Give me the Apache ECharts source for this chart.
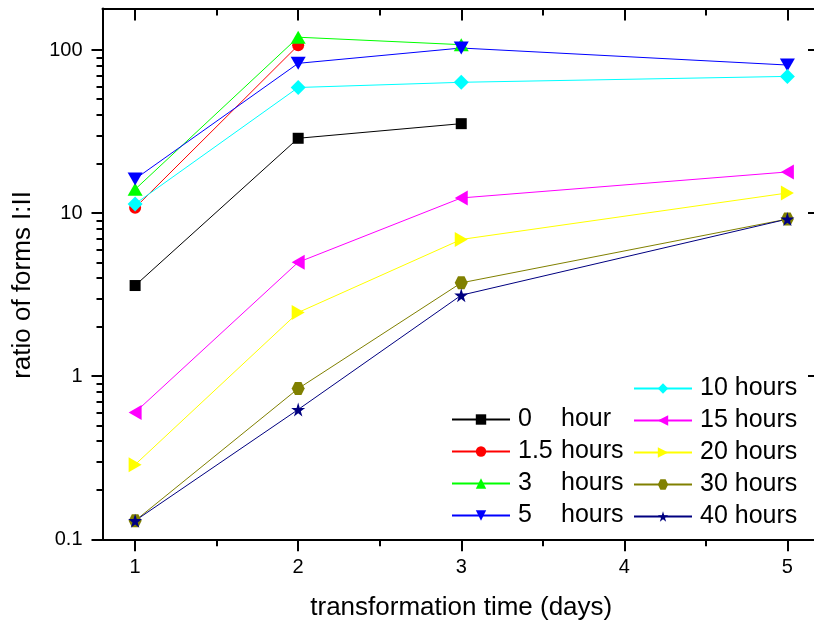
<!DOCTYPE html>
<html>
<head>
<meta charset="utf-8">
<script src="https://cdn.jsdelivr.net/npm/echarts@6/dist/echarts.min.js"></script>
<style>html,body{margin:0;padding:0;background:#fff}#c{width:814px;height:624px}</style>
</head>
<body>
<div id="c"></div>
<script>
// ---- data ----
var days = [1, 2, 3, 5];
var seriesNames = ['0 hour', '1.5 hours', '3 hours', '5 hours', '10 hours', '15 hours', '20 hours', '30 hours', '40 hours'];
var h0   = [3.6, 28.8, 35.4, null];
var h1_5 = [10.8, 107, null, null];
var h3   = [14.0, 120, 108, null];
var h5   = [16.2, 83, 103, 81];
var h10  = [11.4, 59, 63.5, 69];
var h15  = [0.6, 5.0, 12.4, 17.9];
var h20  = [0.287, 2.46, 6.9, 13.3];
var h30  = [0.13, 0.84, 3.74, 9.2];
var h40  = [0.13, 0.625, 3.14, 9.2];
var xTickLabels = [1, 2, 3, 4, 5];
var xMinorTicks = [1.5, 2.5, 3.5, 4.5];
var yTickLabels = [0.1, 1, 10, 100];
var yMinorTicks = [0.2,0.3,0.4,0.5,0.6,0.7,0.8,0.9,2,3,4,5,6,7,8,9,20,30,40,50,60,70,80,90];

// ---- styles ----
var colors = ['#000000', '#ff0000', '#00ff00', '#0000ff', '#00ffff', '#ff00ff', '#ffff00', '#808000', '#000080'];
var symbols = [
  'rect',
  'circle',
  'path://M50,0 L100,87 L0,87 Z',
  'path://M0,0 L100,0 L50,87 Z',
  'diamond',
  'path://M0,50 L87,0 L87,100 Z',
  'path://M0,0 L87,50 L0,100 Z',
  'path://M25,7 L75,7 L100,50 L75,93 L25,93 L0,50 Z',
  'path://M50,0 L61,35 L98,35 L68,57 L79,91 L50,70 L21,91 L32,57 L2,35 L39,35 Z'
];
var sizes = [11, 12, [15, 13], [15, 13], 15, [13, 15], [13, 15], 13, 14];
var allValues = [h0, h1_5, h3, h5, h10, h15, h20, h30, h40];
var FONT = '"Liberation Sans", Arial, sans-serif';

var series = seriesNames.map(function (name, i) {
  var pts = [];
  allValues[i].forEach(function (v, j) { if (v !== null) pts.push([days[j], v]); });
  return {
    name: name, type: 'line', data: pts,
    xAxisIndex: 0, yAxisIndex: 0,
    symbol: symbols[i], symbolSize: sizes[i],
    itemStyle: { color: colors[i] },
    lineStyle: { color: colors[i], width: 1 },
    showAllSymbol: true
  };
});

var legendLabel = {
  '0 hour': '{a|0}{b|hour}',
  '1.5 hours': '{a|1.5}{b|hours}',
  '3 hours': '{a|3}{b|hours}',
  '5 hours': '{a|5}{b|hours}'
};
function legendCfg(data, left, top) {
  return {
    data: data, orient: 'vertical', left: left, top: top, padding: 0,
    itemWidth: 58, itemHeight: 13, itemGap: 7,
    inactiveColor: '#000',
    formatter: function (n) { return legendLabel[n] || n; },
    textStyle: {
      fontFamily: FONT, fontSize: 25, color: '#000', lineHeight: 25, padding: [0, 0, 0, 3],
      rich: { a: { width: 43, fontSize: 25, fontFamily: FONT, color: '#000' }, b: { fontSize: 25, fontFamily: FONT, color: '#000' } }
    }
  };
}

var lineStyle = { color: '#000', width: 2 };
function xAx(pos, inside, vals, len, line, labels, extra) {
  return Object.assign({
    type: 'value', position: pos, min: 0.8, max: 5.2,
    axisLine: { show: line, lineStyle: lineStyle },
    axisTick: { show: true, inside: inside, length: len, customValues: vals, lineStyle: { color: '#000', width: 2 } },
    axisLabel: labels ? { show: true, customValues: xTickLabels, margin: 18, fontSize: 20, fontFamily: FONT, color: '#000' } : { show: false },
    splitLine: { show: false }
  }, extra || {});
}
function yAx(pos, inside, vals, len, line, labels, extra) {
  return Object.assign({
    type: 'log', logBase: 10, position: pos, min: 0.1, max: 180,
    axisLine: { show: line, lineStyle: lineStyle },
    axisTick: { show: true, inside: inside, length: len, customValues: vals, lineStyle: { color: '#000', width: 2 } },
    axisLabel: labels ? { show: true, customValues: yTickLabels, margin: 20, fontSize: 20, fontFamily: FONT, color: '#000',
      formatter: function (v) { return String(Math.round(v * 10) / 10); } } : { show: false },
    splitLine: { show: false }
  }, extra || {});
}

var chart = echarts.init(document.getElementById('c'), null, { renderer: 'canvas' });
chart.setOption({
  animation: false,
  backgroundColor: '#fff',
  grid: { left: 102.5, right: -6, top: 8.5, bottom: 84.7, containLabel: false, outerBoundsMode: 'none' },
  xAxis: [
    xAx('bottom', false, xTickLabels, 12, true, true, {
      name: 'transformation time (days)', nameLocation: 'middle', nameGap: 56,
      nameTextStyle: { fontSize: 26, fontFamily: FONT, color: '#000' }
    }),
    xAx('bottom', false, xMinorTicks, 7, false, false),
    xAx('top', true, xTickLabels, 12, true, false),
    xAx('top', true, xMinorTicks, 7, false, false)
  ],
  yAxis: [
    yAx('left', false, yTickLabels, 11, true, true, {
      name: 'ratio of forms I:II', nameLocation: 'middle', nameGap: 67, nameRotate: 90,
      nameTextStyle: { fontSize: 26, fontFamily: FONT, color: '#000', padding: [0, 22, 0, 0] }
    }),
    yAx('left', false, yMinorTicks, 6, false, false),
    yAx('right', true, yTickLabels, 12, true, false),
    yAx('right', true, yMinorTicks, 6, false, false)
  ],
  legend: [
    legendCfg(seriesNames.slice(0, 4), 451, 407),
    legendCfg(seriesNames.slice(4), 633, 376)
  ],
  series: series
});
</script>
</body>
</html>
